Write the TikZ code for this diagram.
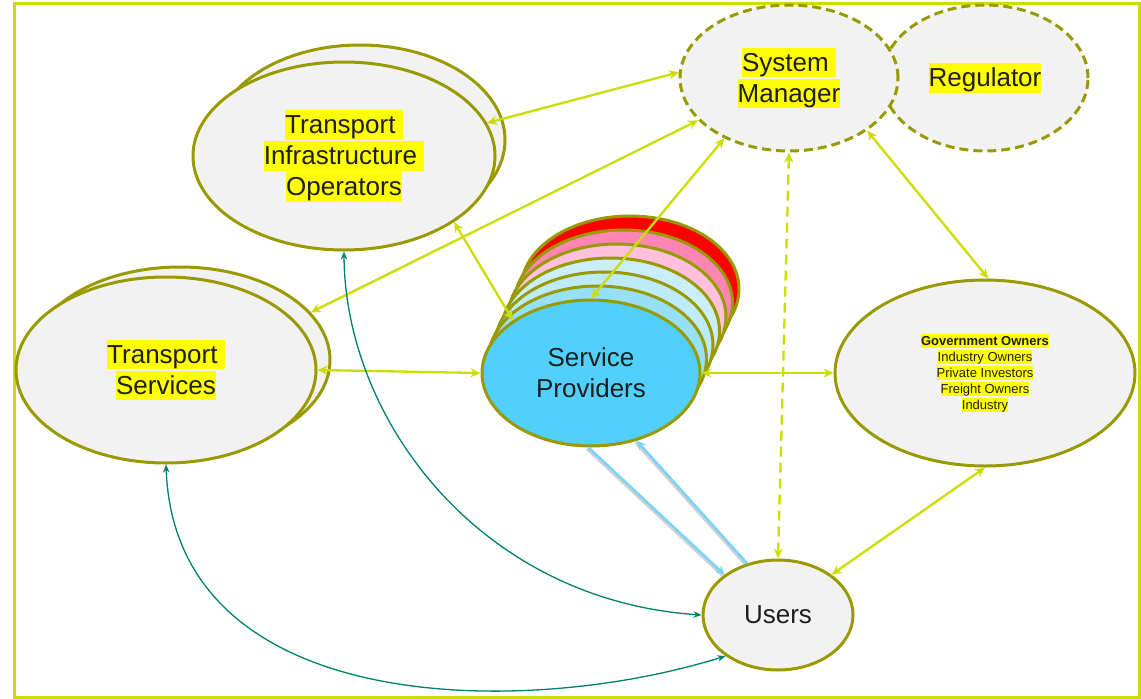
\documentclass[tikz,border=0pt]{standalone}
\usepackage{fontspec}
\setmainfont{Liberation Sans}
\usetikzlibrary{shapes.geometric,arrows.meta}
\definecolor{ygreen}{RGB}{204,221,0}
\definecolor{ebord}{RGB}{153,153,0}
\definecolor{efill}{RGB}{242,242,242}
\definecolor{hly}{RGB}{255,255,0}
\definecolor{tealc}{RGB}{0,128,110}
\definecolor{spblue}{RGB}{80,208,250}
\definecolor{ablue}{RGB}{120,212,248}
\definecolor{layA}{RGB}{150,224,250}
\definecolor{layB}{RGB}{190,235,251}
\definecolor{layC}{RGB}{202,239,251}
\definecolor{layD}{RGB}{255,192,220}
\definecolor{layE}{RGB}{255,133,181}
\definecolor{layF}{RGB}{255,0,0}
\definecolor{txt}{RGB}{30,30,30}
\newcommand\hlt[1]{{\setlength{\fboxsep}{0pt}\colorbox{hly}{\rule[-0.22em]{0pt}{1.12em}#1}}}
\begin{document}
\begin{tikzpicture}[x=1pt,y=-1pt,
  ell/.style={ellipse, draw=ebord, line width=3pt, fill=efill, inner sep=0pt, align=center,
              text=txt, font={\fontsize{26}{31}\selectfont}},
  dash ell/.style={ell, dash pattern=on 9pt off 5pt},
  con/.style={draw=ygreen, line width=2.3pt, arrows={Stealth[length=10pt,width=9pt]-Stealth[length=10pt,width=9pt]}},
  lb/.style={draw=ablue, line width=2.6pt, arrows={-Stealth[length=9pt,width=9pt]}},
  lbshadow/.style={draw=black!35, line width=2.6pt, opacity=0.5, transform canvas={shift={(-1.5pt,-1.5pt)}}},
  tl/.style={draw=tealc, line width=1.3pt, arrows={Stealth[length=8pt,width=6.5pt]-Stealth[length=8pt,width=6.5pt]}}]
\useasboundingbox (0,0) rectangle (1141,699);
\draw[ygreen, line width=3pt] (14,3) rectangle (1139,697);

% Transport Infrastructure Operators
\node[ell, minimum width=290pt, minimum height=190pt] (tiob) at (360,140) {};
\node[ell, minimum width=302pt, minimum height=188pt] (tio) at (344,156)
  {\hlt{Transport\ }\\\hlt{Infrastructure\ }\\\hlt{Operators}};

% Transport Services
\node[ell, minimum width=300pt, minimum height=186pt] (tsb) at (180,360) {};
\node[ell, minimum width=300pt, minimum height=186pt] (ts) at (166,370)
  {\hlt{Transport\ }\\\hlt{Services}};

% Regulator and System Manager
\node[dash ell, minimum width=206pt, minimum height=146pt] (reg) at (985,78) {\hlt{Regulator}};
\node[dash ell, minimum width=218pt, minimum height=146pt] (sm) at (789,78)
  {\hlt{System\ }\\\hlt{Manager}};

% Service Providers stack
\node[ell, fill=layF, minimum width=218pt, minimum height=146pt] (spf) at (630,289) {};
\node[ell, fill=layE, minimum width=218pt, minimum height=146pt] (spe) at (623.5,303) {};
\node[ell, fill=layD, minimum width=218pt, minimum height=146pt] (spd) at (617,317) {};
\node[ell, fill=layC, minimum width=218pt, minimum height=146pt] (spc) at (610.5,331) {};
\node[ell, fill=layB, minimum width=218pt, minimum height=146pt] (spbb) at (604,345) {};
\node[ell, fill=layA, minimum width=218pt, minimum height=146pt] (spa) at (597.5,359) {};
\node[ell, fill=spblue, minimum width=218pt, minimum height=146pt] (sp) at (591,373)
  {Service\\Providers};

% Owners
\node[ell, minimum width=300pt, minimum height=186pt, font={\fontsize{13}{16}\selectfont}] (go) at (985,373)
  {\hlt{\textbf{Government Owners}}\\\hlt{Industry Owners}\\\hlt{Private Investors}\\\hlt{Freight Owners}\\\hlt{Industry}};

% Users
\node[ell, minimum width=150pt, minimum height=110pt] (users) at (778,615) {Users};

% yellow-green connectors
\draw[con] (tio.13) -- (sm.177);
\draw[con] (tsb.20) -- (sm.205.5);
\draw[con] (sp.north) -- (sm.223);
\draw[con] (tio.-31.4) -- (sp.146);
\draw[con, dash pattern=on 10pt off 6pt] (sm.south) -- (users.north);
\draw[con] (sm.-34) -- (go.88);
\draw[con] (ts.east) -- (sp.west);
\draw[con] (sp.east) -- (go.west);
\draw[con] (go.-90) -- (users.37.6);

% light blue connectors
\draw[lbshadow] (sp.-92) -- (users.143);
\draw[lbshadow] (users.121) -- (sp.-56);
\draw[lb] (sp.-92) -- (users.143);
\draw[lb] (users.121) -- (sp.-56);

% teal curves
\draw[tl] (tio.south) .. controls (345,420) and (480,600) .. (users.west);
\draw[tl] (ts.south) .. controls (175,715) and (520,720) .. (users.218);
\end{tikzpicture}
\end{document}
